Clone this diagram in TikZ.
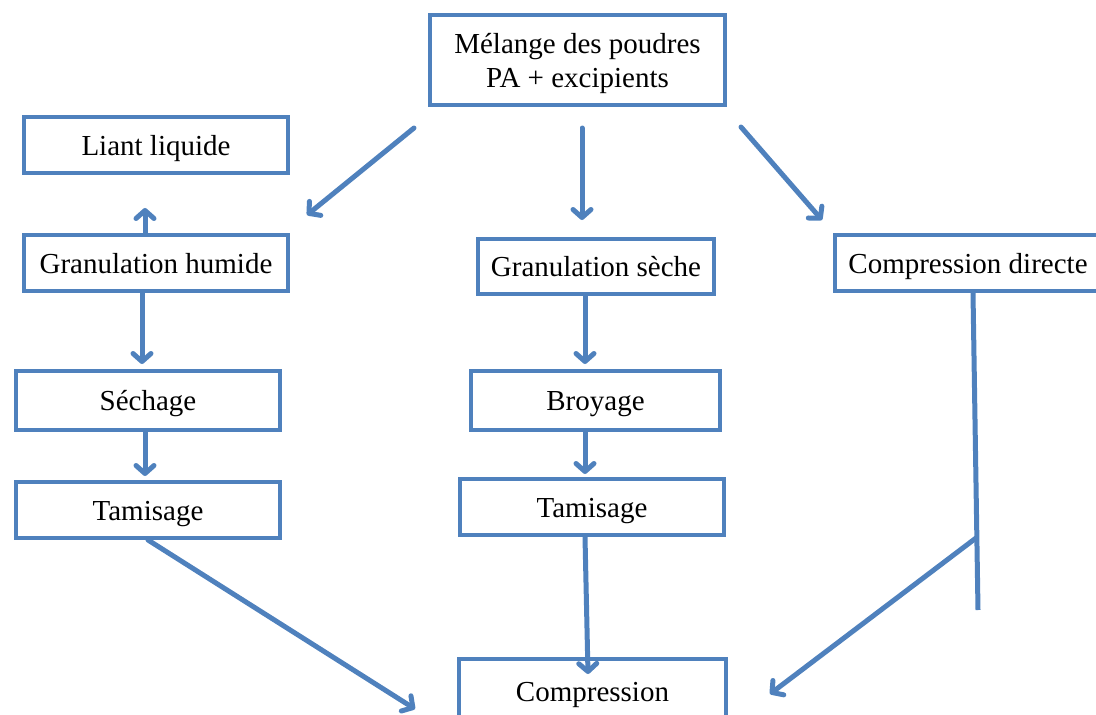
\documentclass[tikz,border=0pt]{standalone}
\usepackage{fontspec}
\setmainfont{Liberation Serif}
\usepackage{tikz}
\usepackage{xcolor}
\usetikzlibrary{arrows.meta, calc, shadows}
\definecolor{boxblue}{HTML}{4F81BD}
\tikzstyle{box} = [rectangle, draw=boxblue, line width=4pt, fill=white, text centered, inner sep=0pt, text height=20pt, text depth=0pt, font=\fontsize{29}{34}\selectfont, drop shadow={opacity=0.2, shadow xshift=1pt, shadow yshift=-2pt}]
\tikzstyle{arrow} = [line width=5pt, boxblue, line cap=round, line join=round, -{Straight Barb[length=8pt,width=18pt,round]}]
\tikzstyle{line} = [line width=5pt, boxblue, line cap=butt]

\begin{document}
\begin{tikzpicture}[x=1pt, y=-1pt]
                    \useasboundingbox (0,0) rectangle (1096,715);
                    \clip (0,0) rectangle (1096,715);

                    \node[box, minimum width=295pt, minimum height=90pt, align=center, text height=] (melange) at (577.5,60) {Mélange des poudres\\PA + excipients};
                    \node[box, minimum width=264pt, minimum height=56pt] (liant) at (156,145) {Liant liquide};
                    \node[box, minimum width=264pt, minimum height=56pt] (granh) at (156,263) {Granulation humide};
                    \node[box, minimum width=264pt, minimum height=59pt] (sechage) at (148,400.5) {Séchage};
                    \node[box, minimum width=264pt, minimum height=56pt] (tamish) at (148,510) {Tamisage};
                    \node[box, minimum width=236pt, minimum height=55pt] (grans) at (596,266.5) {Granulation sèche};
                    \node[box, minimum width=249pt, minimum height=59pt] (broyage) at (595.5,400.5) {Broyage};
                    \node[box, minimum width=264pt, minimum height=56pt] (tamiss) at (592,507) {Tamisage};
                    \node[box, minimum width=266pt, minimum height=56pt] (compd) at (968,263) {Compression directe};
                    \node[box, minimum width=267pt, minimum height=64pt] (compression) at (592.5,691) {Compression};

                    \coordinate (cdend) at (978,610);
                    \coordinate (cdjoin) at (976,538);

                    \draw[arrow] ($(melange.south west)+(-14,21)$) -- ($(granh.north east)+(17,-18)$);
                    \draw[arrow] ($(melange.south)+(4.5,21)$) -- ($(grans.north)+(-14,-17)$);
                    \draw[arrow] ($(melange.south east)+(14,20)$) -- ($(compd.north west)+(-11,-13)$);
                    \draw[arrow] ($(granh.north)+(-11,0)$) -- ($(liant.south)+(-11,33)$);
                    \draw[arrow] ($(granh.south)+(-14,0)$) -- ($(sechage.north)+(-6,-5)$);
                    \draw[arrow] ($(sechage.south)+(-3,0)$) -- ($(tamish.north)+(-3,-4)$);
                    \draw[arrow] ($(grans.south)+(-11,0)$) -- ($(broyage.north)+(-10.5,-5)$);
                    \draw[arrow] ($(broyage.south)+(-10.5,0)$) -- ($(tamiss.north)+(-7,-3)$);
                    \draw[arrow] (tamish.south) -- ($(compression.north west)+(-42,52)$);
                    \draw[arrow] ($(tamiss.south)+(-7,0)$) -- ($(compression.north)+(-4.5,17)$);
                    \draw[line] ($(compd.south)+(5,0)$) -- (cdend);
                    \draw[arrow] (cdjoin) -- ($(compression.north east)+(42,37)$);
                \end{tikzpicture}
\end{document}
